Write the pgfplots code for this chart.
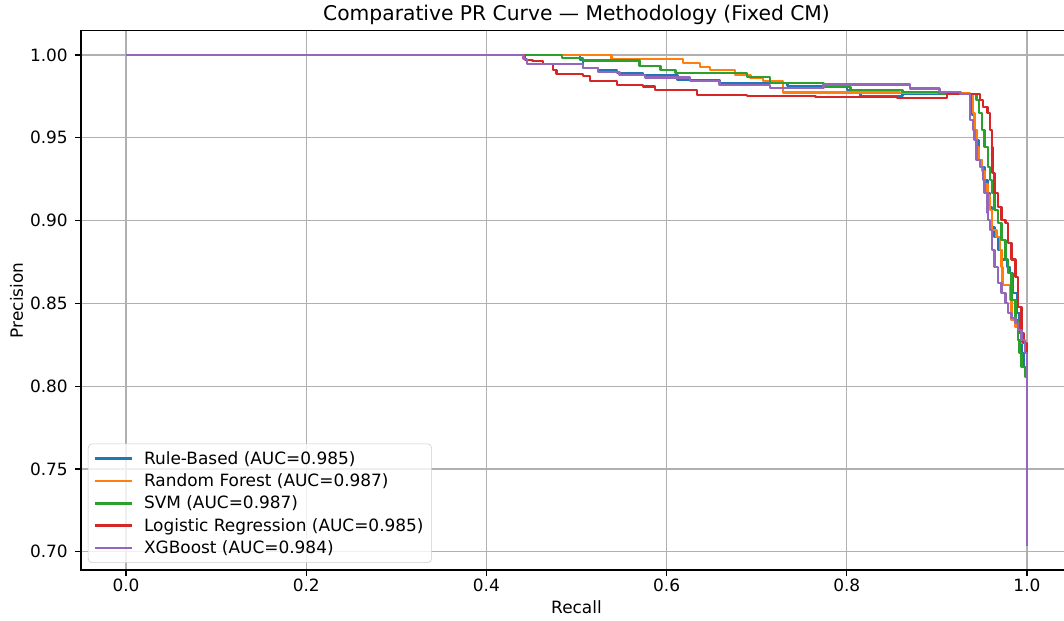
\documentclass[border=0pt]{standalone}
\usepackage{fontspec}
\setmainfont{DejaVu Sans}
\usepackage{pgfplots}
\pgfplotsset{compat=1.18}
\definecolor{c0}{HTML}{1F77B4}
\definecolor{c1}{HTML}{FF7F0E}
\definecolor{c2}{HTML}{2CA02C}
\definecolor{c3}{HTML}{D62728}
\definecolor{c4}{HTML}{9467BD}
\begin{document}
\begin{tikzpicture}
\begin{axis}[
  at={(0,0)}, anchor=south west,
  scale only axis, width=743.25pt, height=404.5pt,
  xmin=-0.05, xmax=1.05, ymin=0.689, ymax=1.01467,
  xtick={0,0.2,0.4,0.6,0.8,1.0},
  xticklabels={0.0,0.2,0.4,0.6,0.8,1.0},
  ytick={0.70,0.75,0.80,0.85,0.90,0.95,1.00},
  yticklabels={0.70,0.75,0.80,0.85,0.90,0.95,1.00},
  tick align=outside, tick pos=left,
  major tick length=4.4pt,
  tick style={black, line width=1pt},
  grid=major, grid style={color=black!31, line width=1pt},
  axis line style={line width=1pt, black},
  tick label style={font=\fontsize{12.7}{15}\selectfont},
  xticklabel style={anchor=base, inner sep=0pt, yshift=-11.35pt},
  yticklabel style={anchor=east, inner sep=0pt, xshift=-5.35pt},
  title={Comparative PR Curve — Methodology (Fixed CM)},
  title style={at={(0.5,1)}, anchor=base, yshift=1.3pt, inner sep=0pt, font=\fontsize{15.2}{18}\selectfont},
  xlabel={Recall},
  xlabel style={at={(0.5,0)}, anchor=base, yshift=-32.5pt, inner sep=0pt, font=\fontsize{12.7}{15}\selectfont},
  ylabel={Precision},
  ylabel style={at={(0,0.5)}, anchor=base, yshift=43.5pt, inner sep=0pt, font=\fontsize{12.7}{15}\selectfont},
  legend cell align=left,
  legend image code/.code={\draw[#1, line width=1.9pt] (0pt,0pt) -- (28pt,0pt);},
  legend style={at={(0.007,0.013)}, anchor=south west, draw=black!20, rounded corners=3pt,
    fill=white, fill opacity=0.8, draw opacity=1, text opacity=1,
    font=\fontsize{12.7}{15}\selectfont, inner xsep=4pt, inner ysep=3.5pt,
    column sep=6pt, row sep=1.6pt, nodes={inner sep=2pt}},
  every axis plot/.append style={line width=1.9pt, const plot, line join=round},
]
% Rule-Based
\addplot[c0] coordinates {
(0,1) (0.504,0.9970) (0.507,0.9921) (0.524,0.9909) (0.545,0.9891) (0.574,0.9879)
(0.612,0.9849) (0.659,0.9831) (0.734,0.9813) (0.800,0.9789) (0.815,0.9752)
(0.862,0.9764) (0.939,0.9638) (0.942,0.9547) (0.944,0.9487) (0.946,0.9366)
(0.950,0.9324) (0.953,0.9245) (0.956,0.9167) (0.959,0.9082) (0.961,0.8961)
(0.964,0.8901) (0.968,0.8822) (0.972,0.8764) (0.978,0.8720) (0.981,0.8684)
(0.984,0.8563) (0.989,0.8442) (0.992,0.8321) (0.994,0.8200) (0.996,0.8116)
(1.0,0.8060) (1.0,0.7037)
};
\addlegendentry{Rule-Based (AUC=0.985)}
% Random Forest
\addplot[c1] coordinates {
(0,1) (0.539,0.9976) (0.618,0.9952) (0.637,0.9928) (0.648,0.9909) (0.676,0.9879)
(0.693,0.9861) (0.707,0.9843) (0.729,0.9774) (0.859,0.9771) (0.937,0.9764)
(0.940,0.9650) (0.942,0.9547) (0.944,0.9444) (0.946,0.9366) (0.950,0.9300)
(0.953,0.9220) (0.956,0.9150) (0.959,0.9064) (0.961,0.8943) (0.966,0.8901)
(0.970,0.8822) (0.972,0.8720) (0.973,0.8611) (0.981,0.8521) (0.983,0.8400)
(0.987,0.8357) (0.990,0.8279) (0.992,0.8261) (1.0,0.7037)
};
\addlegendentry{Random Forest (AUC=0.987)}
% SVM
\addplot[c2] coordinates {
(0,1) (0.484,0.9982) (0.507,0.9966) (0.570,0.9934) (0.593,0.9909) (0.610,0.9891)
(0.689,0.9867) (0.715,0.9831) (0.774,0.9807) (0.804,0.9789) (0.862,0.9777)
(0.903,0.9764) (0.944,0.9728) (0.947,0.9650) (0.950,0.9547) (0.953,0.9444)
(0.957,0.9324) (0.959,0.9245) (0.961,0.9167) (0.964,0.9064) (0.968,0.8986)
(0.972,0.8883) (0.976,0.8764) (0.979,0.8684) (0.983,0.8521) (0.987,0.8400)
(0.990,0.8279) (0.992,0.8200) (0.994,0.8116) (0.998,0.8060) (1.0,0.7037)
};
\addlegendentry{SVM (AUC=0.987)}
% Logistic Regression
\addplot[c3] coordinates {
(0,1) (0.443,0.9970) (0.451,0.9964) (0.463,0.9946) (0.474,0.9909) (0.478,0.9885)
(0.507,0.9873) (0.515,0.9843) (0.545,0.9819) (0.574,0.9809) (0.587,0.9789)
(0.634,0.9758) (0.689,0.9752) (0.765,0.9746) (0.856,0.9740) (0.911,0.9764)
(0.948,0.9728) (0.951,0.9686) (0.956,0.9650) (0.959,0.9547) (0.961,0.9444)
(0.962,0.9287) (0.964,0.9167) (0.968,0.9082) (0.972,0.9004) (0.976,0.8986)
(0.979,0.8865) (0.983,0.8764) (0.987,0.8659) (0.990,0.8478) (0.994,0.8321)
(0.996,0.8261) (1.0,0.8150) (1.0,0.7037)
};
\addlegendentry{Logistic Regression (AUC=0.985)}
% XGBoost
\addplot[c4] coordinates {
(0,1) (0.441,0.9976) (0.445,0.9946) (0.507,0.9921) (0.524,0.9897) (0.548,0.9879)
(0.576,0.9864) (0.626,0.9843) (0.659,0.9819) (0.715,0.9801) (0.774,0.9823)
(0.870,0.9798) (0.903,0.9775) (0.926,0.9764) (0.937,0.9607) (0.940,0.9547)
(0.942,0.9487) (0.944,0.9366) (0.948,0.9324) (0.951,0.9245) (0.953,0.9167)
(0.956,0.9046) (0.957,0.9004) (0.959,0.8943) (0.961,0.8822) (0.964,0.8720)
(0.968,0.8623) (0.972,0.8563) (0.976,0.8502) (0.979,0.8442) (0.983,0.8412)
(0.987,0.8382) (0.990,0.8339) (0.994,0.8279) (0.998,0.8200) (1.0,0.8037)
(1.0,0.7037)
};
\addlegendentry{XGBoost (AUC=0.984)}
\end{axis}
\pgfresetboundingbox
\path[use as bounding box] (-60.75pt,-38.25pt) rectangle (737.25pt,427.5pt);
\end{tikzpicture}
\end{document}
